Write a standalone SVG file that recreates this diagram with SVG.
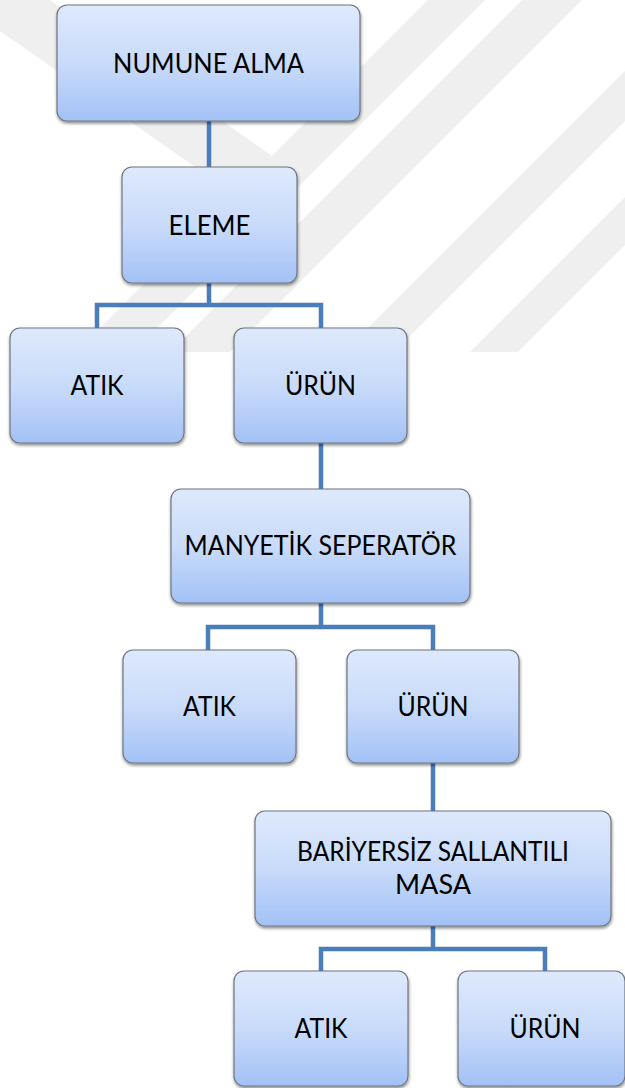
<svg xmlns="http://www.w3.org/2000/svg" width="625" height="1088" viewBox="0 0 625 1088">
<defs>
<linearGradient id="fill" x1="0" y1="0" x2="0" y2="1">
<stop offset="0" stop-color="#dee9fc"/>
<stop offset="0.5" stop-color="#c9dbfa"/>
<stop offset="1" stop-color="#a3c1f6"/>
</linearGradient>
<filter id="sh" x="-10%" y="-10%" width="120%" height="130%">
<feDropShadow dx="0.5" dy="2" stdDeviation="1.6" flood-color="#000" flood-opacity="0.45"/>
</filter>
</defs>
<style>
.wm{fill:#efefef;}
.box{fill:url(#fill);stroke:#6f7680;stroke-width:1.2;filter:url(#sh);}
.lbl{font-family:Lato,"Open Sans","Liberation Sans",sans-serif;font-size:27px;fill:#000;text-anchor:middle;}
.con{fill:none;stroke:#4a7ebb;stroke-width:4.5;stroke-linejoin:miter;stroke-linecap:butt;}
</style>
<rect width="625" height="1088" fill="#ffffff"/>
<g id="watermark">
<polygon class="wm" points="0,0 50,0 272,156 234,194 0,31"/>
<polygon class="wm" points="76,352 133,352 485,0 428,0"/>
<polygon class="wm" points="170,352 230,352 582,0 522,0"/>
<polygon class="wm" points="344,352 394,352 625,121 625,71"/>
<polygon class="wm" points="470,352 518,352 625,245 625,197"/>
</g>
<g id="connectors">
<path class="con" d="M209,121 V167"/>
<path class="con" d="M209,283 V305 M97,328 V305 H321 V328"/>
<path class="con" d="M321,443 V489"/>
<path class="con" d="M321,603 V627 M208,650 V627 H433 V650"/>
<path class="con" d="M433,763 V811"/>
<path class="con" d="M433,926 V949 M321,971 V949 H545 V971"/>
</g>
<g id="n1"><rect class="box" x="57" y="5" width="303" height="116" rx="10"/><text class="lbl" x="208.5" y="73" textLength="191" lengthAdjust="spacingAndGlyphs">NUMUNE ALMA</text></g>
<g id="n2"><rect class="box" x="122" y="167" width="175" height="116" rx="10"/><text class="lbl" x="209.5" y="235" textLength="82" lengthAdjust="spacingAndGlyphs">ELEME</text></g>
<g id="n3"><rect class="box" x="10" y="328" width="174" height="115" rx="10"/><text class="lbl" x="97" y="395" textLength="53" lengthAdjust="spacingAndGlyphs">ATIK</text></g>
<g id="n4"><rect class="box" x="234" y="328" width="173" height="115" rx="10"/><text class="lbl" x="320.5" y="395" textLength="71" lengthAdjust="spacingAndGlyphs">ÜRÜN</text></g>
<g id="n5"><rect class="box" x="171" y="489" width="299" height="114" rx="10"/><text class="lbl" x="320.5" y="554.5" textLength="272" lengthAdjust="spacingAndGlyphs">MANYETİK SEPERATÖR</text></g>
<g id="n6"><rect class="box" x="123" y="650" width="173" height="113" rx="10"/><text class="lbl" x="209.5" y="716" textLength="53" lengthAdjust="spacingAndGlyphs">ATIK</text></g>
<g id="n7"><rect class="box" x="347" y="650" width="172" height="113" rx="10"/><text class="lbl" x="433" y="716" textLength="71" lengthAdjust="spacingAndGlyphs">ÜRÜN</text></g>
<g id="n8"><rect class="box" x="255" y="811" width="356" height="115" rx="10"/><text class="lbl" x="433" y="861" textLength="272" lengthAdjust="spacingAndGlyphs">BARİYERSİZ SALLANTILI</text><text class="lbl" x="433" y="894">MASA</text></g>
<g id="n9"><rect class="box" x="234" y="971" width="174" height="115" rx="10"/><text class="lbl" x="321" y="1038" textLength="53" lengthAdjust="spacingAndGlyphs">ATIK</text></g>
<g id="n10"><rect class="box" x="458" y="971" width="167" height="115" rx="10"/><text class="lbl" x="545" y="1038" textLength="71" lengthAdjust="spacingAndGlyphs">ÜRÜN</text></g>
</svg>
